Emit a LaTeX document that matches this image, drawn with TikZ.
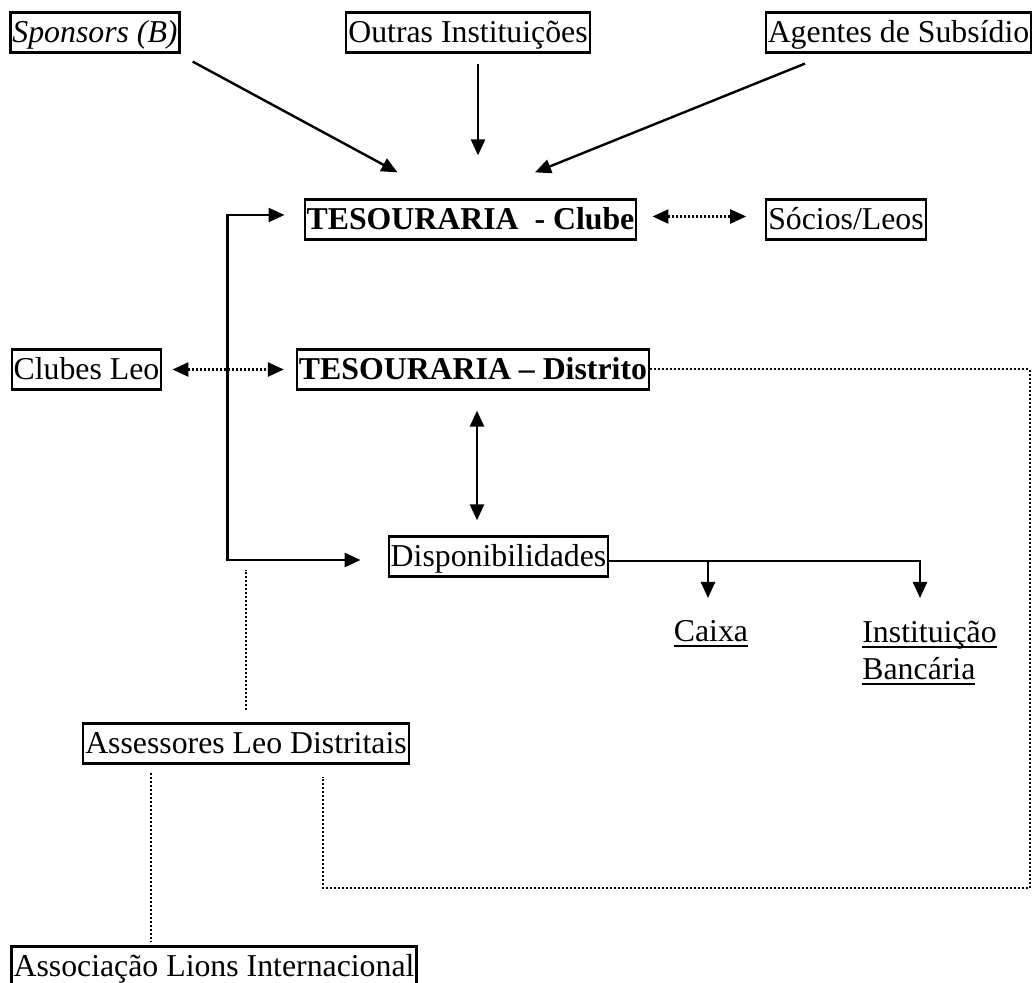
\documentclass[tikz,border=0pt]{standalone}
\usepackage{fontspec}
\setmainfont{Liberation Serif}
\usetikzlibrary{positioning, arrows.meta, calc}

% underlined word with a fixed rule position
\newcommand{\ulword}[1]{\setbox0\hbox{#1}\rlap{\rule[-2.5pt]{\wd0}{0.9pt}}\box0}

\begin{document}
\begin{tikzpicture}[
        x=0.5pt, y=-0.5pt,
        every node/.style={font=\fontsize{15.9}{18.7}\selectfont},
        box/.style={draw, line width=1.1pt, inner xsep=1pt, inner ysep=2pt, text height=13pt, text depth=3pt},
        plain/.style={inner sep=0pt, align=left},
        flow/.style={line width=1.2pt, -{Triangle[length=8pt, width=7pt]}},
        twoway/.style={line width=1.2pt, {Triangle[length=8pt, width=7pt]}-{Triangle[length=8pt, width=7pt]}},
        dottwoway/.style={twoway, dash pattern=on 1pt off 1pt},
        link/.style={line width=1pt, dash pattern=on 1pt off 1pt}
    ]
    \useasboundingbox (0,0) rectangle (1034,983);

    % Sources on top
    \node[box] (spons) at (95,32.5) {\textit{Sponsors (B)}};
    \node[box] (outras) at (468,32.5) {Outras Instituições};
    \node[box] (agentes) at (898.5,32.5) {Agentes de Subsídio};

    % Treasuries
    \node[box] (clube) at (470.5,219.5) {\bfseries TESOURARIA\ \ - Clube};
    \node[box] (socios) at (846,219.5) {Sócios/Leos};
    \node[box] (leo) at (86.5,369.5) {Clubes Leo};
    \node[box] (distrito) at (473,369.5) {\bfseries TESOURARIA -- Distrito};

    % Cash and bank
    \node[box] (disp) at (498.5,556.5) {Disponibilidades};
    \node[plain, anchor=base] (caixa) at (711,642) {\ulword{Caixa}};
    \node[plain, anchor=base west] (banco) at (862,680) {\ulword{Instituição}\\\ulword{Bancária}};

    % Advisers and Lions
    \node[box] (assess) at (246,743.5) {Assessores Leo Distritais};
    \node[box] (assoc) at (214,966.5) {Associação Lions Internacional};

    \coordinate (cxjoin) at (708,561);
    \coordinate (bkjoin) at (920,561);
    \coordinate (farcorner) at (1030,888);

    % Edges into the club treasury
    \draw[flow] ($(spons.south east)+(12,8)$) -- ($(clube.north west)+(94,-26)$);
    \draw[flow] ($(outras.south)+(10,10)$) -- ($(clube.north)+(7.5,-43)$);
    \draw[flow] ($(agentes.south)+(-93.5,10)$) -- ($(clube.north)+(64.5,-26)$);
    \draw[dottwoway, shorten <=7.5pt, shorten >=9.5pt] ($(clube.east)+(0,-3)$) -- ($(socios.west)+(0,-3)$);

    % District treasury
    \draw[dottwoway, shorten <=5pt, shorten >=6pt] (leo.east) -- (distrito.west);
    \draw[twoway] ($(disp.west)+(-27,3.5)$) -| ($(clube.west)+(-76,-4.5)$) -- ($(clube.west)+(-19,-4.5)$);
    \draw[twoway] ($(distrito.south)+(4,20)$) -- ($(disp.north)+(-21.5,-15)$);

    % Split into cash and bank
    \draw[flow] ($(disp.east)+(0,4.5)$) -| ($(bkjoin)+(0,37)$);
    \draw[flow] (cxjoin) -- ($(cxjoin)+(0,37)$);

    % Dotted links
    \draw[link] (distrito.east) -| (farcorner) -| ($(assess.south)+(77,12)$);
    \draw[link] ($(assess.north)+(0,-12)$) -- ($(assess.north |- cxjoin)+(0,9)$);
    \draw[link] ($(assess.south)+(-95,8)$) -- ($(assoc.north)+(-63,-4)$);

\end{tikzpicture}
\end{document}
